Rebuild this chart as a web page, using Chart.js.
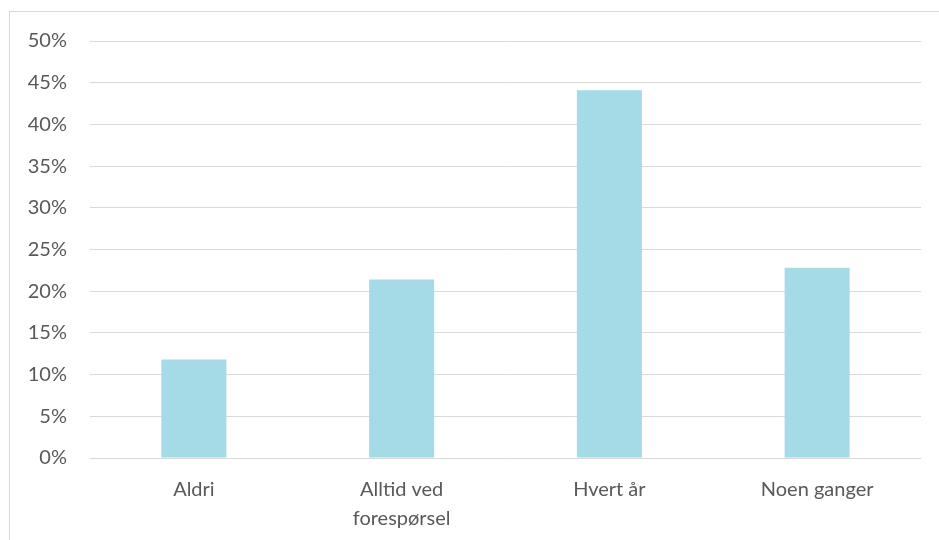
<!DOCTYPE html>
<html>
<head>
<meta charset="utf-8">
<script src="https://cdn.jsdelivr.net/npm/chart.js@4/dist/chart.umd.min.js"></script>
<style>
  html, body { margin: 0; padding: 0; background: #fff; overflow: hidden; }
  .frame {
    position: absolute; left: 9px; top: 11px;
    width: 1000px; height: 600px;
    border: 1px solid #d9d9d9;
  }
  .wrap { position: absolute; left: 0; top: 0; width: 939px; height: 540px; }
</style>
</head>
<body>
<div class="frame"></div>
<div class="wrap"><canvas id="chart"></canvas></div>
<script>
const categories = ['Aldri', ['Alltid ved', 'forespørsel'], 'Hvert år', 'Noen ganger'];
const values = [11.8, 21.4, 44.1, 22.8];

const ctx = document.getElementById('chart').getContext('2d');
new Chart(ctx, {
  type: 'bar',
  data: {
    labels: categories,
    datasets: [
      {
        data: values,
        backgroundColor: '#a4dbe6',
        borderWidth: 0,
        barPercentage: 0.313,
        categoryPercentage: 1,
      },
    ],
  },
  options: {
    responsive: true,
    maintainAspectRatio: false,
    animation: false,
    layout: { padding: { left: 0, top: 41, right: 18, bottom: 0 } },
    plugins: { legend: { display: false }, tooltip: { enabled: false } },
    scales: {
      x: {
        grid: { display: false, drawTicks: false },
        border: { display: false },
        ticks: {
          color: '#595959',
          padding: 17,
          maxRotation: 0,
          autoSkip: false,
          font: { family: 'Lato', size: 20, lineHeight: 1.45 },
        },
        afterFit: (scale) => { scale.height = 82; },
      },
      y: {
        min: 0,
        max: 50,
        grid: { color: '#d9d9d9', lineWidth: 1, drawTicks: false },
        border: { display: false },
        ticks: {
          stepSize: 5,
          color: '#595959',
          padding: 23,
          font: { family: 'Lato', size: 20 },
          callback: (v) => v + '%',
        },
        afterFit: (scale) => { scale.width = 90; },
      },
    },
  },
});
</script>
</body>
</html>
